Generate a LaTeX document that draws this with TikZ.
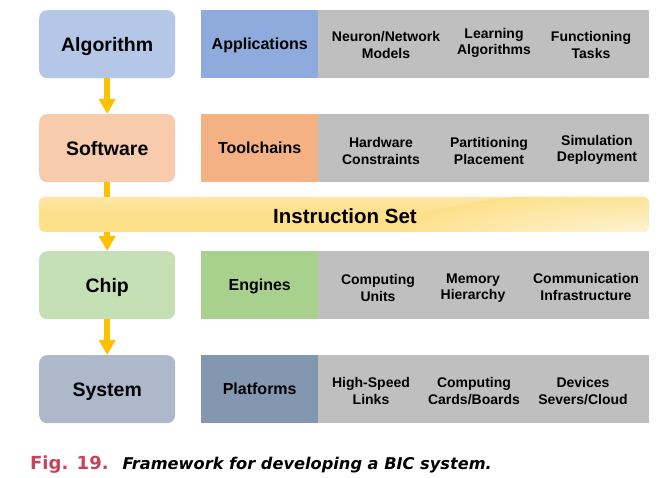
\documentclass[tikz,border=0pt]{standalone}
\usepackage{fontspec}
\setmainfont{Liberation Sans}
\newfontfamily\capfont{DejaVu Sans}
\usetikzlibrary{arrows.meta}
\definecolor{algoL}{HTML}{B4C7E7}\definecolor{algoD}{HTML}{8FAADC}
\definecolor{softL}{HTML}{F8CBAD}\definecolor{softD}{HTML}{F4B183}
\definecolor{chipL}{HTML}{C5E0B4}\definecolor{chipD}{HTML}{A9D18E}
\definecolor{sysL}{HTML}{ADB9CA}\definecolor{sysD}{HTML}{8497B0}
\definecolor{panel}{HTML}{BFBFBF}
\definecolor{flow}{HTML}{FFC000}
\definecolor{isaA}{HTML}{FDE08A}\definecolor{isaT}{HTML}{FEE7A6}\definecolor{isaB}{HTML}{FFF6DC}
\definecolor{figred}{HTML}{C8435A}
\tikzset{
  levelbox/.style={rounded corners=8pt, minimum width=136pt, minimum height=68pt,
    anchor=north west, inner sep=0pt, text depth=0pt,
    font=\fontsize{19.5}{21}\selectfont\bfseries},
  domainbox/.style={minimum width=117pt, minimum height=68pt, anchor=north west,
    inner sep=0pt, text depth=0pt, font=\fontsize{16}{18}\selectfont\bfseries},
  panelbox/.style={fill=panel, minimum width=331pt, minimum height=68pt,
    anchor=north west, inner sep=0pt},
  itemtext/.style={align=center, inner sep=0pt, font=\fontsize{14}{16.5}\selectfont\bfseries},
  flowarrow/.style={draw=flow, line width=5.5pt,
    -{Triangle[width=16pt,length=15pt]}, flow}
}
\begin{document}
\begin{tikzpicture}[x=1pt,y=-1pt]
\useasboundingbox (0,0) rectangle (669,478);
% left column: abstraction levels
\node[levelbox, fill=algoL] (alg) at (39,10) {Algorithm};
\node[levelbox, fill=softL] (sw) at (39,114) {Software};
\node[levelbox, fill=chipL] (chip) at (39,251) {Chip};
\node[levelbox, fill=sysL] (sys) at (39,355) {System};
% flow between levels
\draw[flowarrow] (alg.south) -- (sw.north);
\draw[flowarrow] (sw.south) -- (chip.north);
\draw[flowarrow] (chip.south) -- (sys.north);
% instruction set bar, drawn over the software-to-chip arrow
\begin{scope}
  \clip[rounded corners=6pt] (39,197) rectangle (649,232);
  \shade[top color=isaT, bottom color=isaA] (39,197) rectangle (649,212);
  \fill[isaA] (39,212) rectangle (649,232);
  \shade[inner color=isaB, outer color=isaA] (649,238) ellipse [x radius=260pt, y radius=48pt];
\end{scope}
\node[font=\fontsize{20.5}{22}\selectfont\bfseries] (isa) at (345,216) {Instruction Set};
% right column: domains and their items
\node[panelbox] (p1) at (318,10) {};
\node[domainbox, fill=algoD] (app) at (201,10) {Applications};
\node[itemtext] (n11) at (386,45) {Neuron/Network\\Models};
\node[itemtext] (n12) at (494,43) {Learning\\Algorithms};
\node[itemtext] (n13) at (591,45) {Functioning\\Tasks};

\node[panelbox] (p2) at (318,114) {};
\node[domainbox, fill=softD] (tool) at (201,114) {Toolchains};
\node[itemtext] (n21) at (381,151) {Hardware\\Constraints};
\node[itemtext] (n22) at (489,151) {Partitioning\\Placement};
\node[itemtext] (n23) at (597,150) {Simulation\\Deployment};

\node[panelbox] (p3) at (318,251) {};
\node[domainbox, fill=chipD] (eng) at (201,251) {Engines};
\node[itemtext] (n31) at (378,288) {Computing\\Units};
\node[itemtext] (n32) at (473,288) {Memory\\Hierarchy};
\node[itemtext] (n33) at (586,287) {Communication\\Infrastructure};

\node[panelbox] (p4) at (318,355) {};
\node[domainbox, fill=sysD] (plat) at (201,355) {Platforms};
\node[itemtext] (n41) at (371,391) {High-Speed\\Links};
\node[itemtext] (n42) at (474,391) {Computing\\Cards/Boards};
\node[itemtext] (n43) at (583,391) {Devices\\Severs/Cloud};
% caption
\node[anchor=base west, inner sep=0pt, font=\capfont] (cap) at (30,469)
  {\textcolor{figred}{\fontsize{18}{20}\selectfont\bfseries Fig. 19.}\hspace{14pt}{\fontsize{16.2}{18}\selectfont\bfseries\itshape Framework for developing a BIC system.}};
\end{tikzpicture}
\end{document}
